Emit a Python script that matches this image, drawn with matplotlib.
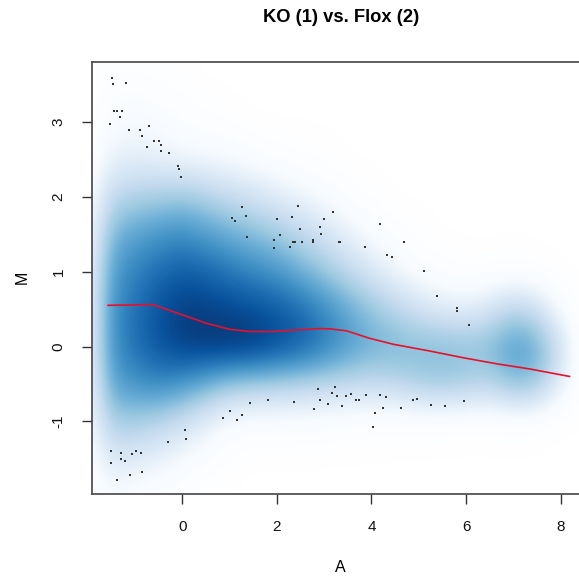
import numpy as np
import matplotlib
matplotlib.use("Agg")
import matplotlib.pyplot as plt
from matplotlib.colors import LinearSegmentedColormap

plt.rcParams['font.family'] = ['Liberation Sans', 'DejaVu Sans']

# ---- data ----
title = "KO (1) vs. Flox (2)"
x_label = "A"
y_label = "M"
x_ticks = [0, 2, 4, 6, 8]
y_ticks = [-1, 0, 1, 2, 3]

# density grid (smoothed scatter)
grid_A = [-2.0, -1.5, -1.0, -0.5, 0.0, 0.5, 1.0, 1.5, 2.0, 2.5, 3.0,
          3.5, 4.0, 4.5, 5.0, 5.5, 6.0, 6.5, 7.0, 7.5, 8.0, 8.5]
grid_M = [4.0, 3.5, 3.0, 2.5, 2.0, 1.5, 1.0, 0.5, 0.0, -0.5, -1.0, -1.5, -2.0]
density_by_A = [
    [0, 0, 0, 0.02, 0.05, 0.08, 0.10, 0.12, 0.12, 0.10, 0.08, 0.05, 0.02],
    [0, 0.04, 0.10, 0.18, 0.35, 0.52, 0.62, 0.66, 0.66, 0.60, 0.42, 0.25, 0.10],
    [0, 0.05, 0.12, 0.20, 0.40, 0.60, 0.72, 0.78, 0.78, 0.66, 0.42, 0.22, 0.06],
    [0, 0.03, 0.10, 0.18, 0.42, 0.65, 0.80, 0.88, 0.88, 0.70, 0.38, 0.18, 0.04],
    [0, 0.02, 0.06, 0.15, 0.45, 0.68, 0.85, 0.95, 0.95, 0.65, 0.30, 0.12, 0.02],
    [0, 0, 0.04, 0.13, 0.40, 0.62, 0.82, 0.95, 0.98, 0.55, 0.20, 0.06, 0],
    [0, 0, 0.02, 0.12, 0.33, 0.56, 0.76, 0.92, 1.00, 0.45, 0.10, 0.02, 0],
    [0, 0, 0, 0.08, 0.28, 0.50, 0.70, 0.90, 0.98, 0.42, 0.08, 0, 0],
    [0, 0, 0, 0.05, 0.22, 0.44, 0.65, 0.86, 0.92, 0.40, 0.08, 0, 0],
    [0, 0, 0, 0.03, 0.16, 0.36, 0.55, 0.80, 0.85, 0.38, 0.08, 0, 0],
    [0, 0, 0, 0.02, 0.10, 0.28, 0.45, 0.70, 0.75, 0.36, 0.07, 0, 0],
    [0, 0, 0, 0, 0.05, 0.18, 0.35, 0.58, 0.64, 0.34, 0.05, 0, 0],
    [0, 0, 0, 0, 0.02, 0.10, 0.25, 0.47, 0.56, 0.33, 0.04, 0, 0],
    [0, 0, 0, 0, 0, 0.04, 0.15, 0.38, 0.53, 0.36, 0.03, 0, 0],
    [0, 0, 0, 0, 0, 0.02, 0.08, 0.28, 0.51, 0.42, 0.03, 0, 0],
    [0, 0, 0, 0, 0, 0, 0.04, 0.22, 0.51, 0.45, 0.03, 0, 0],
    [0, 0, 0, 0, 0, 0, 0.02, 0.20, 0.49, 0.42, 0.02, 0, 0],
    [0, 0, 0, 0, 0, 0, 0.02, 0.26, 0.51, 0.38, 0.02, 0, 0],
    [0, 0, 0, 0, 0, 0, 0.03, 0.38, 0.64, 0.50, 0.03, 0, 0],
    [0, 0, 0, 0, 0, 0, 0.02, 0.30, 0.58, 0.46, 0.02, 0, 0],
    [0, 0, 0, 0, 0, 0, 0, 0.10, 0.30, 0.20, 0, 0, 0],
    [0, 0, 0, 0, 0, 0, 0, 0, 0, 0, 0, 0, 0],
]

# outlying points
pts_A = [-1.48, -1.46, -1.19, -1.45, -1.38, -1.27, -1.32, -1.52, -1.13, -0.90,
         -0.70, -0.85, -0.74, -0.60, -0.49, -0.46, -0.45, -0.28, -0.09, -0.07,
         -0.03, 1.26, 1.06, 1.12, 1.34, 1.37, 2.44, 2.32, 2.00, 2.06, 1.93,
         1.94, 2.27, 2.34, 2.39, 2.48, 2.53, 2.77, 2.77, 2.92, 2.93, 3.00,
         3.18, 3.31, 4.18, 3.33, 3.86, 4.68, 4.33, 4.43, 5.11, 5.39, 5.80,
         5.80, 6.06, 3.22, 3.17, 3.27, 3.46, 3.56, 3.68, 3.74, 3.89, 4.19,
         4.30, 3.38, 4.25, 4.07, 4.62, 4.88, 4.96, 5.25, 5.55, 5.95, 4.03,
         2.87, 2.92, 2.79, 3.08, 2.36, 1.81, 1.43, 1.26, 1.00, 0.85, 1.15,
         0.06, 0.08, -0.30, -1.51, -1.29, -0.99, -0.88, -1.07, -1.30, -1.22,
         -1.51, -1.11, -0.85, -1.39]
pts_M = [3.58, 3.51, 3.52, 3.14, 3.15, 3.15, 3.06, 2.97, 2.89, 2.89,
         2.94, 2.81, 2.67, 2.74, 2.74, 2.69, 2.61, 2.58, 2.41, 2.37,
         2.27, 1.86, 1.71, 1.67, 1.74, 1.46, 1.87, 1.73, 1.70, 1.49, 1.42,
         1.31, 1.33, 1.39, 1.40, 1.57, 1.40, 1.42, 1.39, 1.60, 1.50, 1.70,
         1.80, 1.40, 1.64, 1.40, 1.33, 1.40, 1.22, 1.20, 1.01, 0.68, 0.51,
         0.47, 0.29, -0.54, -0.62, -0.66, -0.66, -0.63, -0.72, -0.71, -0.65, -0.65,
         -0.68, -0.80, -0.82, -0.89, -0.82, -0.72, -0.70, -0.78, -0.79, -0.73, -1.07,
         -0.57, -0.72, -0.83, -0.77, -0.74, -0.71, -0.76, -0.92, -0.86, -0.95, -0.98,
         -1.12, -1.24, -1.28, -1.40, -1.42, -1.39, -1.42, -1.44, -1.50, -1.53,
         -1.55, -1.71, -1.68, -1.78]

# loess fit line
fit_A = [-1.57, -0.62, -0.12, 0.51, 1.00, 1.43, 1.92, 2.41, 2.91, 3.12,
         3.47, 3.96, 4.46, 5.23, 5.94, 6.64, 7.35, 8.19]
fit_M = [0.55, 0.56, 0.45, 0.31, 0.23, 0.20, 0.20, 0.22, 0.24, 0.235,
         0.21, 0.11, 0.03, -0.06, -0.15, -0.23, -0.30, -0.40]

blues9 = ["#F7FBFF", "#DEEBF7", "#C6DBEF", "#9ECAE1", "#6BAED6",
          "#4292C6", "#2171B5", "#08519C", "#08306B"]

# ---- plot ----
W, H = 579, 576
fig = plt.figure(figsize=(W / 100, H / 100), dpi=100)
left, right, top, bottom = 92, 588, 62, 494
ax = fig.add_axes([left / W, 1 - bottom / H, (right - left) / W, (bottom - top) / H])

cmap = LinearSegmentedColormap.from_list("smooth", ["white"] + blues9)
dens = np.array(density_by_A).T  # rows = M (top to bottom), cols = A
dA = grid_A[1] - grid_A[0]
dM = grid_M[0] - grid_M[1]
ax.imshow(dens, cmap=cmap, vmin=0, vmax=1, interpolation="bicubic",
          extent=(grid_A[0] - dA / 2, grid_A[-1] + dA / 2,
                  grid_M[-1] - dM / 2, grid_M[0] + dM / 2),
          aspect="auto", origin="upper", zorder=0)

ax.scatter(pts_A, pts_M, s=0.9, c="#333333", marker="s", linewidths=0, zorder=2)
ax.plot(fit_A, fit_M, color="#e8102a", lw=1.2, zorder=3)

ax.set_xlim(-1.91, 8.58)
ax.set_ylim(-1.97, 3.80)
ax.set_xticks(x_ticks)
ax.set_yticks(y_ticks)
ax.set_xticklabels([str(t) for t in x_ticks])
ax.set_yticklabels([str(t) for t in y_ticks], rotation=90, va="center")
ax.tick_params(direction="out", length=7, width=1, color="#333333",
               labelsize=11, pad=12, labelcolor="#111111")
for s in ax.spines.values():
    s.set_color("#444444")
    s.set_linewidth(1.2)

fig.text(341 / W, 1 - 18 / H, title, ha="center", va="center",
         fontsize=13.2, fontweight="bold")
fig.text(340 / W, 1 - 568 / H, x_label, ha="center", va="center", fontsize=11.5)
fig.text(22 / W, 1 - 277 / H, y_label, ha="center", va="center", fontsize=11.5,
         rotation=90)

fig.savefig("out.png", dpi=100)
